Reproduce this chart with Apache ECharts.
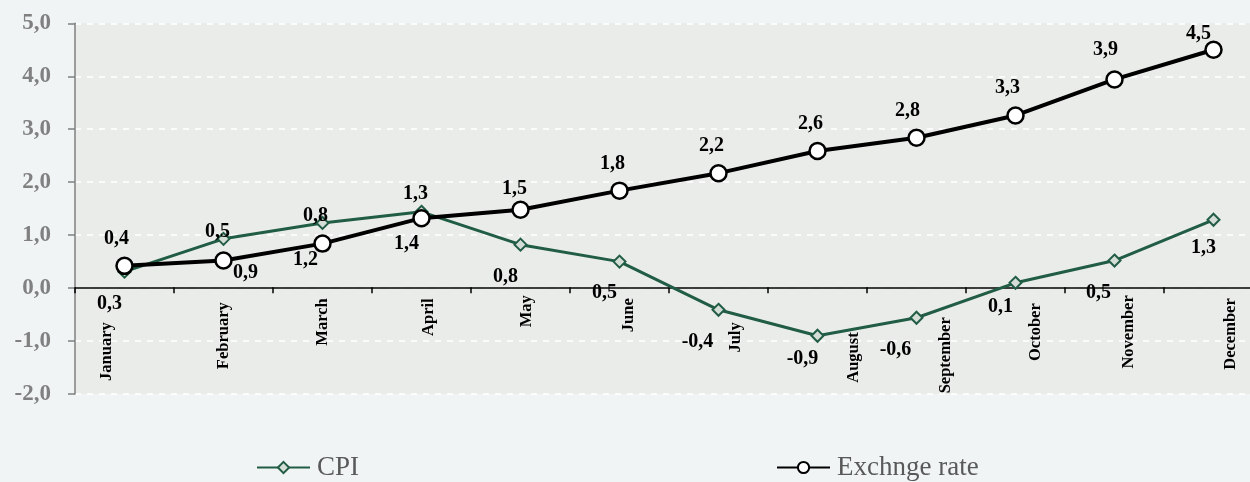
<!DOCTYPE html>
<html>
<head>
<meta charset="utf-8">
<script src="https://cdn.jsdelivr.net/npm/echarts@6/dist/echarts.min.js"></script>
<style>
html,body{margin:0;padding:0;background:#f0f4f5;}
#chart{width:1250px;height:482px;}
</style>
</head>
<body>
<div id="chart"></div>
<script>
const categories = ['January','February','March','April','May','June','July','August','September','October','November','December'];
const cpiValues = [0.31, 0.93, 1.23, 1.44, 0.82, 0.5, -0.41, -0.9, -0.56, 0.1, 0.52, 1.29];
const exchangeValues = [0.42, 0.52, 0.84, 1.32, 1.48, 1.84, 2.17, 2.59, 2.84, 3.26, 3.94, 4.5];
const seriesNames = ['CPI', 'Exchnge rate'];

// layout-only nudges [right px, down px]
const axisLabelNudges = [[-18,27],[-1,7],[-1,3],[7,3],[6,0],[9,3],[17,27],[36,37],[29,22],[20,8],[14,0],[17,3]];
const cpiLabelNudges = [[-15,0],[22,2],[-17,5],[-15,0],[-15,0],[-15,-1],[-21,0],[-15,-9],[-21,0],[-15,-8],[-16,0],[-10,-4]];
const exchangeLabelNudges = [[-8,1],[-6,0],[-7,0],[-6,4],[-6,7],[-7,1],[-7,1],[-7,1],[-9,1],[-8,1],[-9,-1],[-15,12]];

const fmt = v => v.toFixed(1).replace('.', ',');
const serif = '"Liberation Serif", "Times New Roman", serif';

const categoryItems = categories.map((c, i) => {
  const [dx, dy] = axisLabelNudges[i];
  const ts = { padding: [0, dy, 0, 0] };
  if (Math.abs(dx) >= 2) {
    ts.verticalAlign = dx > 0 ? 'top' : 'bottom';
    ts.lineHeight = 2 * Math.abs(dx);
  }
  return { value: c, textStyle: ts };
});

const withNudges = (vals, nudges) => vals.map((v, i) => ({ value: v, label: { offset: nudges[i] } }));

const chart = echarts.init(document.getElementById('chart'));
chart.setOption({
  backgroundColor: '#f0f4f5',
  animation: false,
  textStyle: { fontFamily: serif },
  grid: {
    left: 75, top: 23.3, width: 1188, height: 370.7,
    outerBoundsMode: 'none', containLabel: false,
    show: true, backgroundColor: '#e9ece8', borderWidth: 0
  },
  legend: {
    data: seriesNames,
    left: 256, top: 454, padding: 0,
    itemGap: 417,
    itemWidth: 53, itemHeight: 14,
    textStyle: { fontFamily: serif, fontSize: 27, color: '#595959', padding: [0, 0, 0, 2] }
  },
  xAxis: {
    type: 'category',
    data: categoryItems,
    boundaryGap: true,
    offset: -106.7,
    axisLine: { show: true, onZero: false, lineStyle: { color: '#000', width: 1.5 } },
    axisTick: { show: true, length: 6, lineStyle: { color: '#000', width: 1.5 } },
    axisLabel: {
      rotate: 90, margin: 8, fontFamily: serif, fontWeight: 'bold', fontSize: 16.5, color: '#000'
    },
    splitLine: { show: false }
  },
  yAxis: {
    type: 'value',
    min: -2, max: 5, interval: 1,
    axisLine: { show: true, lineStyle: { color: '#7f7f7f', width: 1.5 } },
    axisTick: { show: true, length: 7, lineStyle: { color: '#7f7f7f', width: 1.5 } },
    axisLabel: {
      formatter: fmt, fontFamily: serif, fontWeight: 'bold', fontSize: 23, color: '#808080', margin: 24
    },
    splitLine: { show: true, lineStyle: { color: '#ffffff', type: [6, 6], width: 1.5 } }
  },
  series: [
    {
      name: seriesNames[0],
      type: 'line',
      data: withNudges(cpiValues, cpiLabelNudges),
      symbol: 'diamond',
      symbolSize: 12,
      lineStyle: { color: '#215c45', width: 3 },
      itemStyle: { color: '#d5ddd7', borderColor: '#215c45', borderWidth: 2 },
      label: {
        show: true, position: 'bottom', distance: 15,
        formatter: p => fmt(p.value),
        fontFamily: serif, fontWeight: 'bold', fontSize: 20, color: '#000'
      },
      z: 3
    },
    {
      name: seriesNames[1],
      type: 'line',
      data: withNudges(exchangeValues, exchangeLabelNudges),
      symbol: 'circle',
      symbolSize: 16,
      lineStyle: { color: '#000', width: 4 },
      itemStyle: { color: '#ffffff', borderColor: '#000', borderWidth: 2.5 },
      label: {
        show: true, position: 'top', distance: 9,
        formatter: p => fmt(p.value),
        fontFamily: serif, fontWeight: 'bold', fontSize: 20, color: '#000'
      },
      z: 4
    }
  ]
});
</script>
</body>
</html>
